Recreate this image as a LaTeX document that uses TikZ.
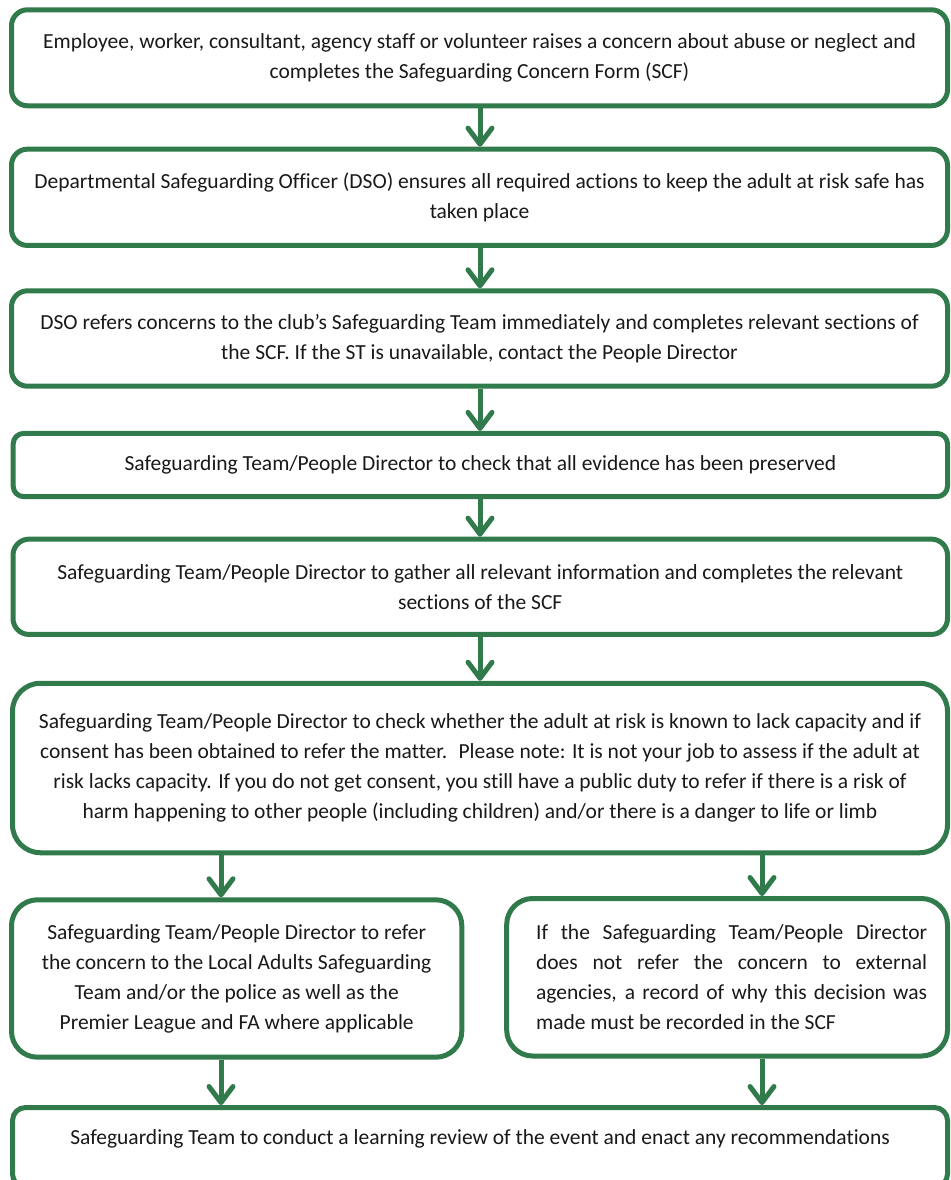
\documentclass[tikz,border=0pt]{standalone}
\usepackage{fontspec}
\setmainfont{Carlito}[Ligatures=NoCommon]
\usetikzlibrary{arrows.meta}
\definecolor{sgreen}{RGB}{48,122,76}
\begin{document}
\begin{tikzpicture}[x=1pt,y=-1pt,
  flowbox/.style={draw=sgreen, line width=5pt, fill=white, inner sep=0pt, align=center,
    font=\fontsize{21.5}{30}\selectfont, text=black!90},
  arr/.style={draw=sgreen, line width=5pt,
    -{Straight Barb[length=16pt,width=24pt,round]}},
]
\useasboundingbox (0,0) rectangle (950,1180);
\clip (0,0) rectangle (950,1180);
\fill[white] (0,0) rectangle (950,1180);

\node[flowbox, minimum width=936pt, minimum height=96pt, rounded corners=16pt] (b1) at (479.5,57.8)
 {Employee, worker, consultant, agency staff or volunteer raises a concern about abuse or neglect and\\
  completes the Safeguarding Concern Form (SCF)};
\node[flowbox, minimum width=936pt, minimum height=96.3pt, rounded corners=16pt] (b2) at (479.5,197.3)
 {Departmental Safeguarding Officer (DSO) ensures all required actions to keep the adult at risk safe has\\
  taken place};
\node[flowbox, minimum width=936pt, minimum height=95.4pt, rounded corners=16pt] (b3) at (479.5,338.5)
 {DSO refers concerns to the club’s Safeguarding Team immediately and completes relevant sections of\\
  the SCF. If the ST is unavailable, contact the People Director};
\node[flowbox, minimum width=934.3pt, minimum height=63.2pt, rounded corners=10.5pt] (b4) at (480.35,465)
 {Safeguarding Team/People Director to check that all evidence has been preserved};
\node[flowbox, minimum width=934.5pt, minimum height=95.3pt, rounded corners=16pt] (b5) at (480.25,586.8)
 {Safeguarding Team/People Director to gather all relevant information and completes the relevant\\
  sections of the SCF};
\node[flowbox, minimum width=935pt, minimum height=169.5pt, rounded corners=28pt] (b6) at (480,768)
 {Safeguarding Team/People Director to check whether the adult at risk is known to lack capacity and if\\
  consent has been obtained to refer the matter.~ Please note: It is not your job to assess if the adult at\\
  risk lacks capacity. If you do not get consent, you still have a public duty to refer if there is a risk of\\
  harm happening to other people (including children) and/or there is a danger to life or limb};
\node[flowbox, minimum width=450.3pt, minimum height=157.4pt, rounded corners=26pt] (b7) at (236.65,978.5)
 {Safeguarding Team/People Director to refer\\
  the concern to the Local Adults Safeguarding\\
  Team and/or the police as well as the\\
  Premier League and FA where applicable};
\node[flowbox, align=left, minimum width=440.8pt, minimum height=157.5pt, rounded corners=26pt] (b8) at (727.1,977.25)
 {\hspace*{9pt}\makebox[391pt][s]{If the Safeguarding Team/People Director}\\
  \hspace*{9pt}\makebox[391pt][s]{does not refer the concern to external}\\
  \hspace*{9pt}\makebox[391pt][s]{agencies, a record of why this decision was}\\
  \hspace*{9pt}made must be recorded in the SCF};
\node[flowbox, minimum width=935pt, minimum height=79.5pt, rounded corners=13pt,
  text height=15pt, text depth=21.5pt] (b9) at (480,1147.25)
 {Safeguarding Team to conduct a learning review of the event and enact any recommendations};

\coordinate (mc) at (480,0);
\coordinate (ml) at (221,0);
\coordinate (mr) at (762,0);
\draw[arr] (b1.south -| mc) -- (b2.north -| mc);
\draw[arr] (b2.south -| mc) -- (b3.north -| mc);
\draw[arr] (b3.south -| mc) -- (b4.north -| mc);
\draw[arr] (b4.south -| mc) -- (b5.north -| mc);
\draw[arr] (b5.south -| mc) -- (b6.north -| mc);
\draw[arr] (b6.south -| ml) -- (b7.north -| ml);
\draw[arr] (b6.south -| mr) -- (b8.north -| mr);
\draw[arr] (b7.south -| ml) -- (b9.north -| ml);
\draw[arr] (b8.south -| mr) -- (b9.north -| mr);
\end{tikzpicture}
\end{document}
